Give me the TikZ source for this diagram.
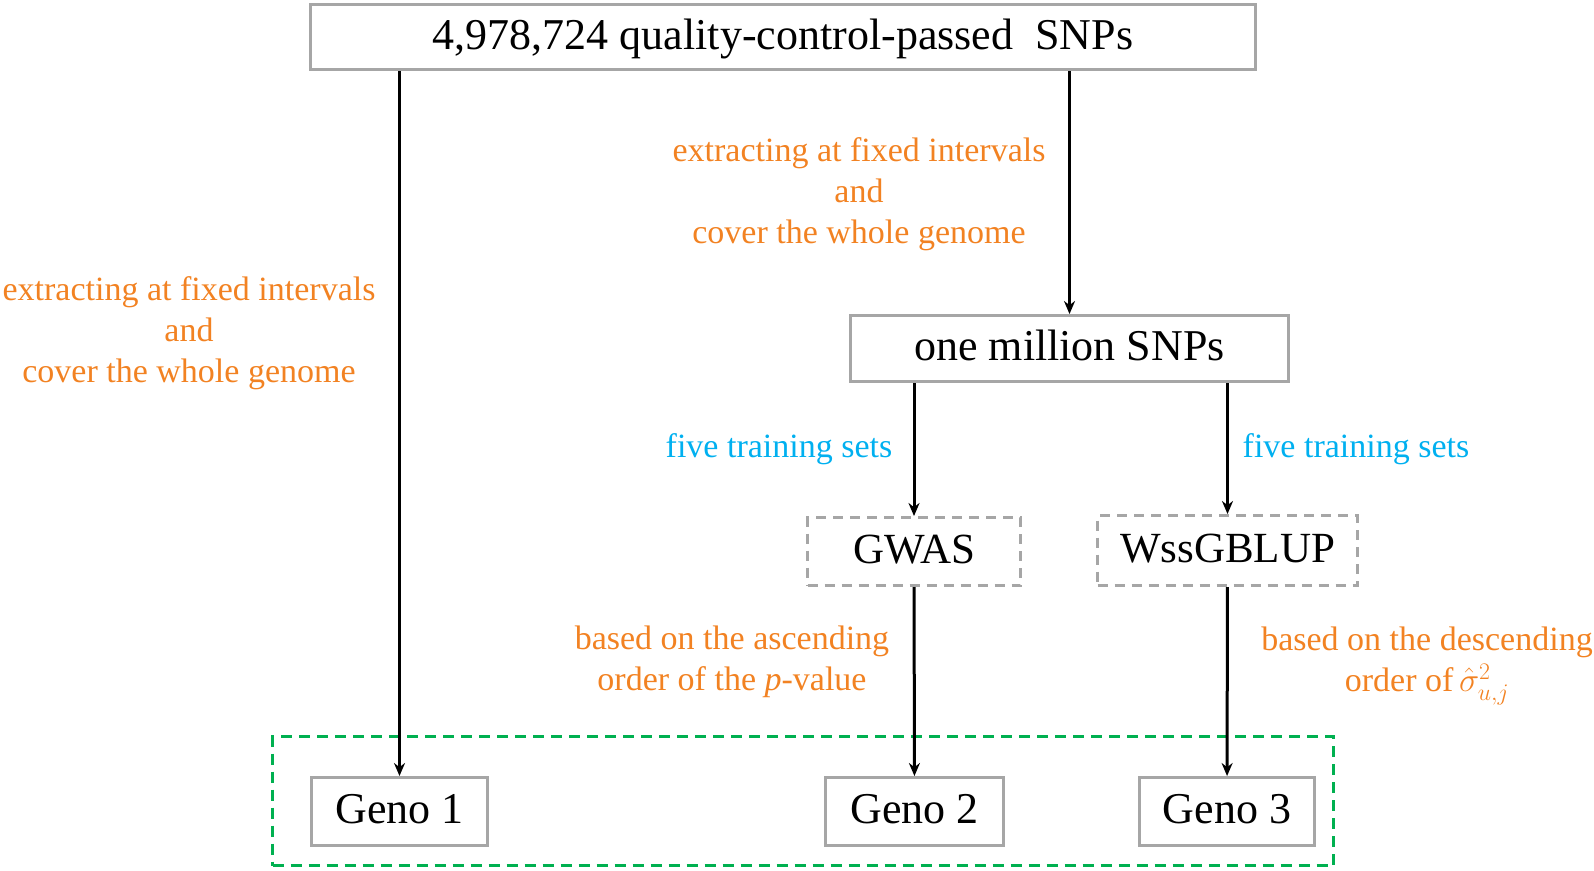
\RequirePackage{fix-cm}
\documentclass[tikz,border=0pt]{standalone}
\usepackage{fontspec}
\setmainfont{Liberation Serif}
\usepackage{color}
\usepackage{tikz}
\usetikzlibrary{arrows.meta}

\definecolor{boxgray}{RGB}{166,166,166}
\definecolor{noteorange}{RGB}{242,130,34}
\definecolor{noteblue}{RGB}{0,176,240}
\definecolor{groupgreen}{RGB}{0,176,80}

\begin{document}
\begin{tikzpicture}[x=1pt,y=-1pt]
\useasboundingbox (0,0) rectangle (1594,870);

% green frame round the three genotype sets
\node[draw=groupgreen, line width=3pt, dash pattern=on 11pt off 7pt,
      minimum width=1061pt, minimum height=129pt] (frame) at (803,801) {};

\begin{scope}[every node/.style={rectangle,draw=boxgray,line width=3pt,fill=white,
              text height=30pt,text depth=6pt,font=\fontsize{44}{53}\selectfont}]
    \node[minimum width=945pt, minimum height=65pt] (allsnps) at (783,37) {4,978,724 quality-control-passed~ SNPs};
    \node[minimum width=438pt, minimum height=66pt] (million) at (1069.5,348.5) {one million SNPs};

    \node[minimum width=176pt, minimum height=68pt] (geno1) at (399.5,811.5) {Geno 1};
    \node[minimum width=178pt, minimum height=68pt] (geno2) at (914.5,811.5) {Geno 2};
    \node[minimum width=175pt, minimum height=68pt] (geno3) at (1227,811.5) {Geno 3};
\end{scope}

\begin{scope}[every node/.style={rectangle,draw=boxgray,line width=3pt,
              text height=30pt,text depth=6pt,
              dash pattern=on 10pt off 7pt,font=\fontsize{43}{52}\selectfont}]
    \node[minimum width=213pt, minimum height=68pt] (gwas) at (914,551.5) {GWAS};
    \node[minimum width=260pt, minimum height=70pt] (wssgblup) at (1227.5,550.5) {WssGBLUP};
\end{scope}

\begin{scope}[every node/.style={align=center,inner sep=0pt,text=noteorange,
              font=\fontsize{34}{41}\selectfont}]
    \node (extract1) at (189,333) {extracting at fixed intervals\\and\\cover the whole genome};
    \node (extract2) at (859,194) {extracting at fixed intervals\\and\\cover the whole genome};
    \node (ascend) at (732,662) {based on the ascending\\order of the \textit{p}-value};
    \node (descend) at (1427,666) {based on the descending\\order of\,$\hat{\sigma}^{2}_{u,j}$};

    \node[text=noteblue] (train1) at (779,449) {five training sets};
    \node[text=noteblue] (train2) at (1356,449) {five training sets};
\end{scope}

\begin{scope}[>={Stealth[length=13pt,width=11pt]},
              every edge/.style={draw=black,line width=3pt}]
    \path [->] (allsnps.south -| geno1) edge (geno1);
    \path [->] (allsnps.south -| million) edge (million);

    \path [->] (million.south -| gwas) edge (gwas);
    \path [->] (million.south -| wssgblup) edge (wssgblup);

    \path [->] (gwas) edge (geno2);
    \path [->] (wssgblup) edge (geno3);
\end{scope}
\end{tikzpicture}
\end{document}
